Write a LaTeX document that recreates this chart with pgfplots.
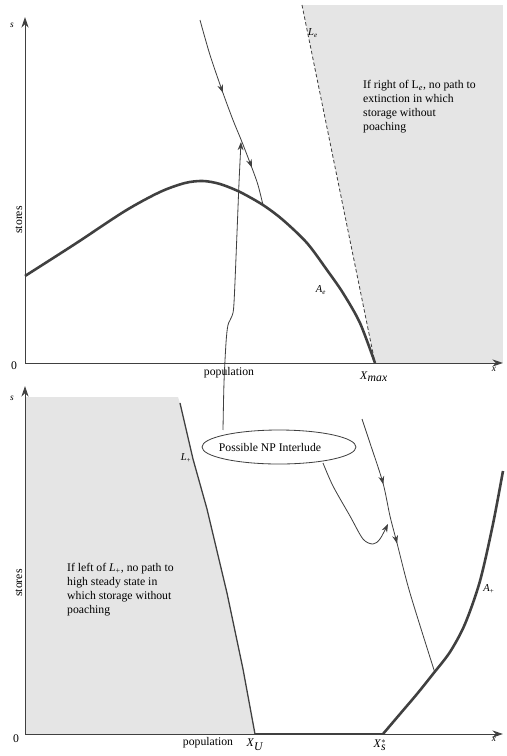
\documentclass[border=0pt]{standalone}
\usepackage{fontspec}
\setmainfont{Liberation Serif}
\usepackage{pgfplots}
\pgfplotsset{compat=1.18}
\usetikzlibrary{arrows.meta,decorations.markings}

\definecolor{ink}{gray}{0.25}
\definecolor{shade}{gray}{0.9}
\definecolor{txt}{gray}{0.3}

\tikzset{
  traj/.style={ink, line width=0.7pt, smooth},
  twoarrows/.style 2 args={postaction={decorate},
    decoration={markings,
      mark=at position #1 with {\arrow{Stealth[length=7pt,width=5pt]}},
      mark=at position #2 with {\arrow{Stealth[length=7pt,width=5pt]}}}},
}
\pgfplotsset{
  phase/.style={
      x=0.03cm, y=0.03cm, anchor=origin,
      xmin=0, xmax=478, ymin=0,
      axis lines=none,
      ticks=none, clip=false,
      every axis plot/.append style={ink},
      every node/.append style={text=txt, font=\normalsize},
    },
}

\begin{document}
\begin{tikzpicture}
\useasboundingbox (0,0) rectangle (15.21cm,22.68cm);

% top panel: extinction side
\begin{axis}[phase, at={(0.75cm,11.79cm)}, ymax=346]
  \addplot[fill=shade, draw=none] coordinates {(277,358) (478,358) (478,0) (350,0)};
  \addplot[ink, line width=0.7pt, -{Stealth[length=9pt,width=6pt]}] coordinates {(0,0) (478,0)};
  \addplot[ink, line width=0.7pt, -{Stealth[length=9pt,width=6pt]}] coordinates {(0,0) (0,346)};
  \addplot[ink, line width=0.7pt, dash pattern=on 3pt off 2pt] coordinates {(277,358) (350,0)};
  % A_e
  \addplot[ink, line width=2.2pt, smooth] coordinates {
    (0,87) (50,119) (100,152) (135,171) (160,180) (178,182) (195,179) (215,171) (238,158)
    (258,143) (282,120) (302,93) (318,70) (335,40) (350,0)};
  % saddle path
  \addplot[traj, twoarrows={0.39}{0.80}] coordinates {
    (175,343) (185,308) (198,270) (208,243) (217,221) (227,195) (233,178) (238,158)};
  % interlude path coming up from the lower panel
  \addplot[traj, -{Stealth[length=7pt,width=5pt]}] coordinates {
    (198,-67) (199,-20) (201,20) (203,38) (207,47) (209,60) (212,130) (214,180) (216,221)};

  \node[font=\footnotesize] at (-13,338) {\textit{s}};
  \node at (-11,-3) {0};
  \node[font=\footnotesize] at (469,-6) {\textit{x}};
  \node[rotate=90] at (-6,143) {stores};
  \node at (204,-10) {population};
  \node at (349,-14) {\textit{X}$_{\textit{max}}$};
  \node[font=\small] at (288,330) {\textit{L}\textsubscript{\textit{e}}};
  \node[font=\small] at (296,73) {\textit{A}\textsubscript{\textit{e}}};
  \node[align=left, anchor=north west, inner sep=0pt] at (338,283)
    {If right of L\textsubscript{\textit{e}}, no path to\\extinction in which\\storage without\\poaching};
\end{axis}

% bottom panel: high steady state side
\begin{axis}[phase, at={(0.75cm,0.66cm)}, ymax=348]
  \addplot[fill=shade, draw=none] coordinates {
    (0,0) (0,337) (153,337) (155,331) (168,275) (182,225) (202,141) (218,65) (230,0)};
  \addplot[ink, line width=0.7pt, -{Stealth[length=9pt,width=6pt]}] coordinates {(0,0) (478,0)};
  \addplot[ink, line width=0.7pt, -{Stealth[length=9pt,width=6pt]}] coordinates {(0,0) (0,348)};
  % L_+
  \addplot[ink, line width=1.1pt] coordinates {
    (155,331) (168,275) (182,225) (202,141) (218,65) (230,0)};
  % A_+
  \addplot[ink, line width=1.4pt] coordinates {(230,0) (358,0)};
  \addplot[ink, line width=2.2pt, smooth] coordinates {
    (358,0) (375,20) (392,40) (408,60) (425,82) (440,110) (455,153) (468,210) (478,263)};
  % saddle path
  \addplot[traj, twoarrows={0.26}{0.49}] coordinates {
    (337,315) (345,291) (358,251) (365,218) (372,191) (385,141) (410,61)};
  % interlude path joining it
  \addplot[traj, -{Stealth[length=7pt,width=5pt]}] coordinates {
    (298,271) (308,248) (325,218) (338,195) (348,190) (355,195) (363,210)};

  \draw[ink, line width=0.7pt] (axis cs:254,287) ellipse [x radius=2.31cm, y radius=0.51cm];
  \node at (245,287) {Possible NP Interlude};

  \node[font=\footnotesize] at (-13,336) {\textit{s}};
  \node at (-9,-5) {0};
  \node[font=\footnotesize] at (469,-5) {\textit{x}};
  \node[rotate=90] at (-6,151) {stores};
  \node at (183,-9) {population};
  \node at (230,-11) {\textit{X}$_{\textit{U}}$};
  \node at (355,-11) {\textit{X}$^{*}_{\textit{s}}$};
  \node[font=\small] at (161,276) {\textit{L}\textsubscript{+}};
  \node[font=\small] at (464,145) {\textit{A}\textsubscript{+}};
  \node[align=left, anchor=north west, inner sep=0pt] at (42,171)
    {If left of \textit{L}\textsubscript{+}, no path to\\high steady state in\\which storage without\\poaching};
\end{axis}
\end{tikzpicture}
\end{document}
